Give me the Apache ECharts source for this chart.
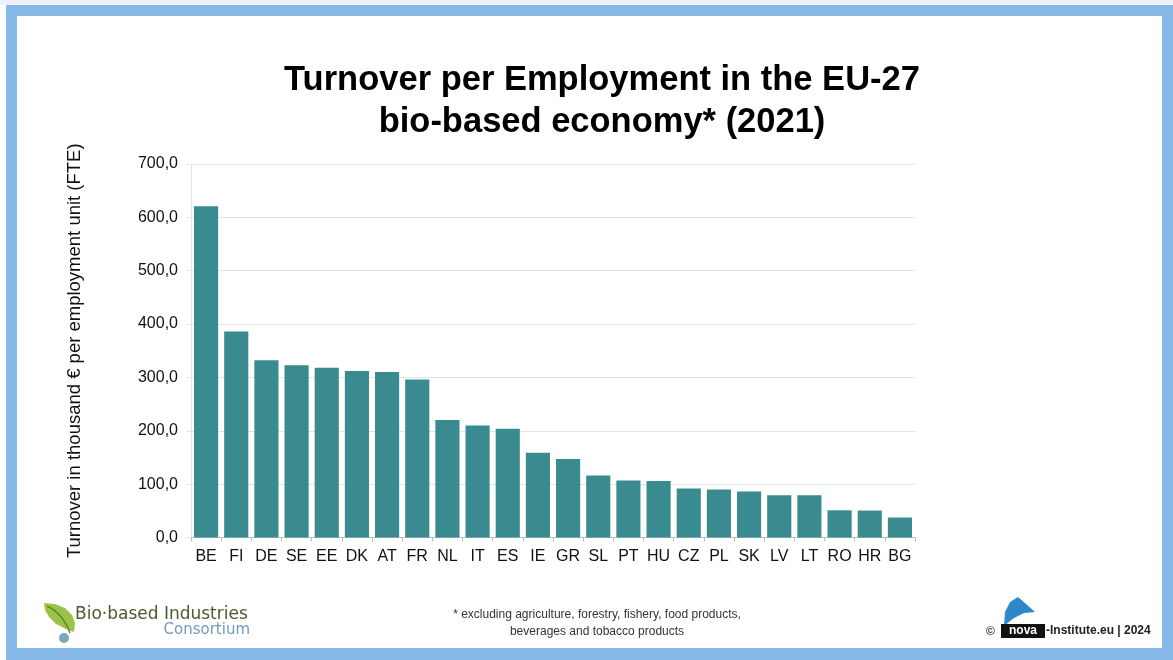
<!DOCTYPE html>
<html><head><meta charset="utf-8">
<script src="https://cdn.jsdelivr.net/npm/echarts@6/dist/echarts.min.js"></script>
<style>html,body{margin:0;padding:0;background:#fff}#c{width:1173px;height:660px}</style>
</head><body><div id="c"></div>
<script>
const categories = ['BE','FI','DE','SE','EE','DK','AT','FR','NL','IT','ES','IE','GR','SL','PT','HU','CZ','PL','SK','LV','LT','RO','HR','BG'];
const turnover = [621,386,332,323,318,312,310,296,220,210,204,159,147,116,107,106,92,90,86,79,79,51,50.5,37.5];
const yTicks = [0,100,200,300,400,500,600,700];

const chart = echarts.init(document.getElementById('c'), null, {renderer:'canvas'});
const F = 'Liberation Sans, Arial, Helvetica, sans-serif';
const frame = '#85b8e6';
chart.setOption({
  backgroundColor:'#fff',
  animation:false,
  title:{
    text:'Turnover per Employment in the EU-27\nbio-based economy* (2021)',
    left:597, top:54, textAlign:'center',
    textStyle:{fontFamily:F, fontSize:34.5, fontWeight:'bold', color:'#000', lineHeight:42}
  },
  grid:{left:191, right:258, top:164, bottom:122.5, containLabel:false},
  xAxis:{
    type:'category', data:categories,
    axisLine:{show:true, lineStyle:{color:'#b8bfc2', width:1}},
    axisTick:{show:true, alignWithLabel:false, length:4, lineStyle:{color:'#b8bfc2'}},
    axisLabel:{fontFamily:F, fontSize:16, color:'#111', margin:11, interval:0}
  },
  yAxis:{
    type:'value', min:yTicks[0], max:yTicks[yTicks.length-1], interval:100,
    name:'Turnover in thousand € per employment unit (FTE)',
    nameLocation:'middle', nameGap:107, nameRotate:90,
    nameTextStyle:{fontFamily:F, fontSize:18.5, color:'#111'},
    axisLine:{show:true, lineStyle:{color:'#dde5e8'}},
    axisTick:{show:true, length:4, lineStyle:{color:'#dde5e8'}},
    splitLine:{show:true, lineStyle:{color:'#dde5e8', width:1}},
    axisLabel:{fontFamily:F, fontSize:16, color:'#111', margin:13,
      formatter:v => v.toFixed(1).replace('.', ',')}
  },
  series:[{
    type:'bar', data:turnover, barCategoryGap:'20%',
    itemStyle:{color:'#3a8b8f'}
  }],
  graphic:[
    {type:'rect', shape:{x:0,y:0,width:1173,height:5}, style:{fill:'#eef0fa'}, silent:true},
    {type:'rect', shape:{x:6,y:5,width:1167,height:11}, style:{fill:frame}, silent:true},
    {type:'rect', shape:{x:6,y:5,width:11,height:655}, style:{fill:frame}, silent:true},
    {type:'rect', shape:{x:1162,y:5,width:11,height:655}, style:{fill:frame}, silent:true},
    {type:'rect', shape:{x:6,y:648,width:1167,height:12}, style:{fill:frame}, silent:true},
    {type:'text', style:{x:597, y:606, text:'* excluding agriculture, forestry, fishery, food products,\nbeverages and tobacco products', textAlign:'center', fontFamily:F, fontSize:12, fill:'#333', lineHeight:17}},
    {type:'polygon', shape:{points:[[44,603],[55,604],[65,608],[72,615],[75,623],[74,632],[66,629],[56,624],[49,617],[45,610]]}, style:{fill:'#9cc24a'}},
    {type:'bezierCurve', shape:{x1:47,y1:606,x2:70,y2:633,cpx1:60,cpy1:612,cpx2:66,cpy2:622}, style:{stroke:'#5f8a2a', lineWidth:1.5, fill:null}},
    {type:'circle', shape:{cx:64,cy:638,r:5}, style:{fill:'#7aa7c0'}},
    {type:'text', style:{x:75, y:606, text:'Bio·based Industries', fontFamily:'DejaVu Sans, sans-serif', fontSize:17, fill:'#4c5a2e'}},
    {type:'text', style:{x:250, y:623, text:'Consortium', textAlign:'right', fontFamily:'DejaVu Sans, sans-serif', fontSize:15, fill:'#6e9dbb'}},
    {type:'text', style:{x:986, y:626, text:'©', fontFamily:F, fontSize:12, fontWeight:'bold', fill:'#333'}},
    {type:'polygon', shape:{points:[[1004,626],[1005,612],[1010,602],[1018,597],[1026,604],[1035,612],[1024,613],[1014,618]]}, style:{fill:'#2f86c8'}},
    {type:'rect', shape:{x:1001,y:624,width:44,height:14}, style:{fill:'#111'}},
    {type:'text', style:{x:1023, y:625, text:'nova', textAlign:'center', fontFamily:F, fontSize:12, fontWeight:'bold', fill:'#fff'}},
    {type:'text', style:{x:1046, y:625, text:'-Institute.eu | 2024', fontFamily:F, fontSize:12, fontWeight:'bold', fill:'#222'}}
  ]
});
</script></body></html>
